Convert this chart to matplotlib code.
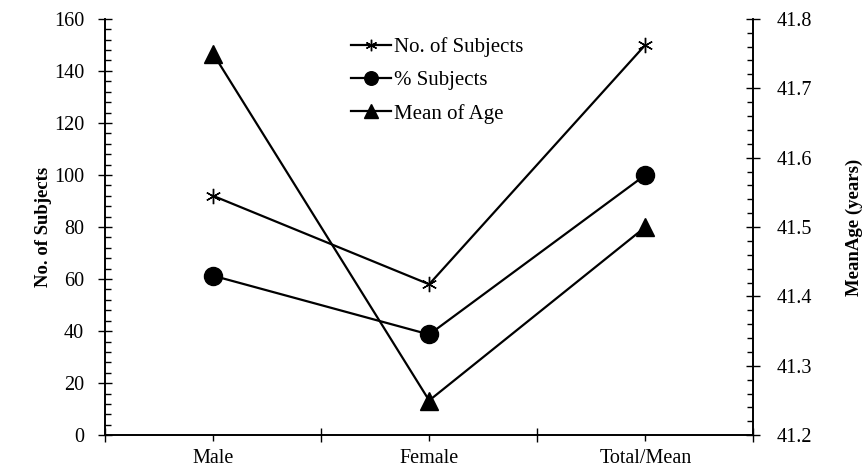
import numpy as np
import matplotlib
matplotlib.use("Agg")
import matplotlib.pyplot as plt
from matplotlib.ticker import MultipleLocator

plt.rcParams['font.family'] = ['Liberation Serif', 'DejaVu Serif']

categories = ['Male', 'Female', 'Total/Mean']
n_subjects = [92, 58, 150]
pct_subjects = [61.3, 38.7, 100]
mean_age = [41.75, 41.25, 41.5]

x = np.arange(len(categories))

fig = plt.figure(figsize=(8.67, 4.71), dpi=100)
ax = fig.add_axes([0.121, 0.076, 0.748, 0.884])
ax2 = ax.twinx()

l1, = ax.plot(x, n_subjects, color='black', lw=1.6, marker=(6, 2, 0), ms=11,
              mew=1.0, label='No. of Subjects')
l2, = ax.plot(x, pct_subjects, color='black', lw=1.6, marker='o', ms=13,
              label='% Subjects')
l3, = ax2.plot(x, mean_age, color='black', lw=1.6, marker='^', ms=13,
               label='Mean of Age')

ax.set_xlim(-0.5, 2.5)
ax.set_ylim(0, 160)
ax2.set_ylim(41.2, 41.8)

ax.set_xticks(x)
ax.set_xticklabels(categories, fontsize=14.5)
ax.set_xticks([-0.5, 0.5, 1.5, 2.5], minor=True)
ax.tick_params(axis='x', which='major', direction='out', length=4, width=1, pad=6)
ax.tick_params(axis='x', which='minor', direction='inout', length=10, width=1)

ax.yaxis.set_major_locator(MultipleLocator(20))
ax.yaxis.set_minor_locator(MultipleLocator(4))
ax.tick_params(axis='y', which='major', direction='inout', length=10, width=1,
               labelsize=14.5, pad=10)
ax.tick_params(axis='y', which='minor', direction='in', length=4, width=1)

ax2.yaxis.set_major_locator(MultipleLocator(0.1))
ax2.yaxis.set_minor_locator(MultipleLocator(0.02))
ax2.tick_params(axis='y', which='major', direction='inout', length=10, width=1,
                labelsize=14.5, pad=12)
ax2.tick_params(axis='y', which='minor', direction='in', length=4, width=1)

for a in (ax, ax2):
    a.spines['top'].set_visible(False)
    for s in ('left', 'right', 'bottom'):
        a.spines[s].set_linewidth(1.2)

ax.set_ylabel('No. of Subjects', fontsize=13.5, fontweight='bold', labelpad=1)
ax2.set_ylabel('MeanAge (years)', fontsize=13.5, fontweight='bold', labelpad=24)

fig.legend(handles=[l1, l2, l3], loc='upper left', bbox_to_anchor=(0.393, 0.943),
           frameon=False, fontsize=15, handlelength=1.9, handletextpad=0.15,
           labelspacing=0.65, borderpad=0, markerscale=0.75)

fig.savefig('out.png', dpi=100)
